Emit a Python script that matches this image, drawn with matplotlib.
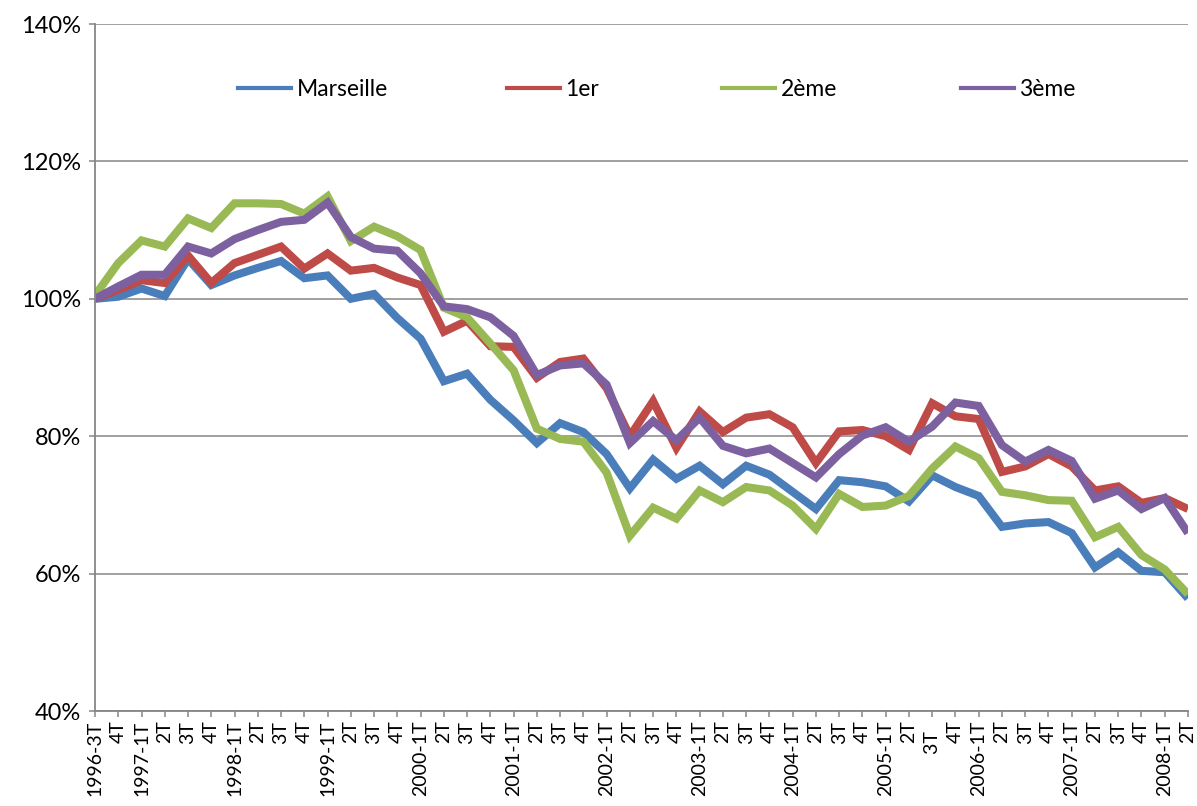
import numpy as np
import matplotlib.pyplot as plt
from matplotlib.legend import Legend

# quarter labels (1996-3T .. 2008-2T)
quarters = ["1996-3T", "4T",
            "1997-1T", "2T", "3T", "4T",
            "1998-1T", "2T", "3T", "4T",
            "1999-1T", "2T", "3T", "4T",
            "2000-1T", "2T", "3T", "4T",
            "2001-1T", "2T", "3T", "4T",
            "2002-1T", "2T", "3T", "4T",
            "2003-1T", "2T", "3T", "4T",
            "2004-1T", "2T", "3T", "4T",
            "2005-1T", "2T", "3T  ", "4T",
            "2006-1T", "2T", "3T", "4T",
            "2007-1T", "2T", "3T", "4T",
            "2008-1T", "2T"]

# index values in %
marseille = [100.0, 100.3, 101.5, 100.4, 105.8, 102.0, 103.4, 104.5, 105.5, 103.0,
             103.4, 100.0, 100.7, 97.2, 94.2, 88.0, 89.1, 85.3, 82.3, 79.0,
             81.9, 80.6, 77.4, 72.4, 76.6, 73.8, 75.7, 73.0, 75.7, 74.4,
             71.9, 69.4, 73.6, 73.3, 72.7, 70.5, 74.3, 72.6, 71.3, 66.8,
             67.3, 67.5, 65.9, 60.9, 63.1, 60.4, 60.2, 56.4]
arr_1er = [100.0, 101.3, 102.7, 102.3, 106.3, 102.3, 105.2, 106.4, 107.6, 104.4,
           106.6, 104.1, 104.5, 103.1, 102.0, 95.2, 96.8, 93.1, 93.0, 88.5,
           90.8, 91.3, 87.0, 80.0, 85.1, 78.3, 83.6, 80.6, 82.7, 83.2,
           81.3, 76.1, 80.7, 80.9, 80.0, 78.0, 84.8, 82.9, 82.5, 74.8,
           75.6, 77.4, 75.6, 72.1, 72.7, 70.3, 71.0, 69.4]
arr_2eme = [100.5, 105.2, 108.5, 107.6, 111.7, 110.3, 113.9, 113.9, 113.8, 112.4,
            114.9, 108.4, 110.5, 109.1, 107.1, 98.7, 97.3, 93.5, 89.6, 81.1,
            79.6, 79.2, 74.7, 65.5, 69.6, 68.0, 72.1, 70.4, 72.6, 72.1,
            69.9, 66.5, 71.6, 69.7, 69.9, 71.3, 75.3, 78.5, 76.8, 71.9,
            71.4, 70.7, 70.6, 65.3, 66.8, 62.7, 60.6, 57.0]
arr_3eme = [100.0, 101.8, 103.5, 103.5, 107.6, 106.6, 108.7, 110.0, 111.2, 111.5,
            114.0, 109.0, 107.3, 107.0, 103.7, 98.9, 98.5, 97.3, 94.6, 88.9,
            90.3, 90.6, 87.5, 79.0, 82.2, 79.4, 82.7, 78.6, 77.5, 78.2,
            76.1, 74.0, 77.4, 80.1, 81.3, 79.2, 81.4, 84.9, 84.4, 78.7,
            76.3, 78.0, 76.4, 70.9, 72.1, 69.4, 71.0, 65.9]

series = [("Marseille", marseille, "#4A7EBB"),
          ("1er", arr_1er, "#BE4B48"),
          ("2ème", arr_2eme, "#98B954"),
          ("3ème", arr_3eme, "#7D60A0")]

# left edge of each legend entry, in axes fraction
legend_x = [0.1308, 0.3769, 0.5737, 0.7923]

plt.rcParams['font.family'] = ['Lato', 'DejaVu Sans']

fig = plt.figure(figsize=(11.97, 8.06), dpi=100)
ax = fig.add_axes([95 / 1197, 95 / 806, 1093 / 1197, 687 / 806])

x = np.arange(len(quarters))
for name, vals, col in series:
    ax.plot(x, np.array(vals) / 100, color=col, lw=5.8, label=name,
            solid_joinstyle='miter', solid_capstyle='butt')

ax.set_xlim(0, len(quarters) - 1)
ax.set_ylim(0.4, 1.4)
yt = np.arange(0.4, 1.41, 0.2)
ax.set_yticks(yt)
ax.set_yticklabels([f"{int(round(v * 100))}%" for v in yt], fontsize=17)
ax.set_xticks(x)
ax.set_xticklabels(quarters, rotation=90, fontsize=14, va='top', ha='center')

ax.grid(axis='y', color='#868686', lw=1.1)
ax.set_axisbelow(True)
for s in ['top', 'right']:
    ax.spines[s].set_visible(False)
for s in ['left', 'bottom']:
    ax.spines[s].set_color('#868686')
    ax.spines[s].set_linewidth(1.3)
ax.tick_params(axis='both', color='#868686', length=4, width=1.1, direction='out')
ax.tick_params(axis='x', pad=3)
ax.tick_params(axis='y', pad=6)

# one legend per entry so the uneven Excel spacing can be kept
for (name, _, col), lx in zip(series, legend_x):
    h = plt.Line2D([], [], color=col, lw=3)
    leg = Legend(ax, [h], [name], frameon=False, fontsize=16.5,
                 loc='center left', bbox_to_anchor=(lx, 0.904),
                 borderaxespad=0, borderpad=0,
                 handlelength=2.3, handletextpad=0.25)
    ax.add_artist(leg)

fig.savefig("out.png", dpi=100)
